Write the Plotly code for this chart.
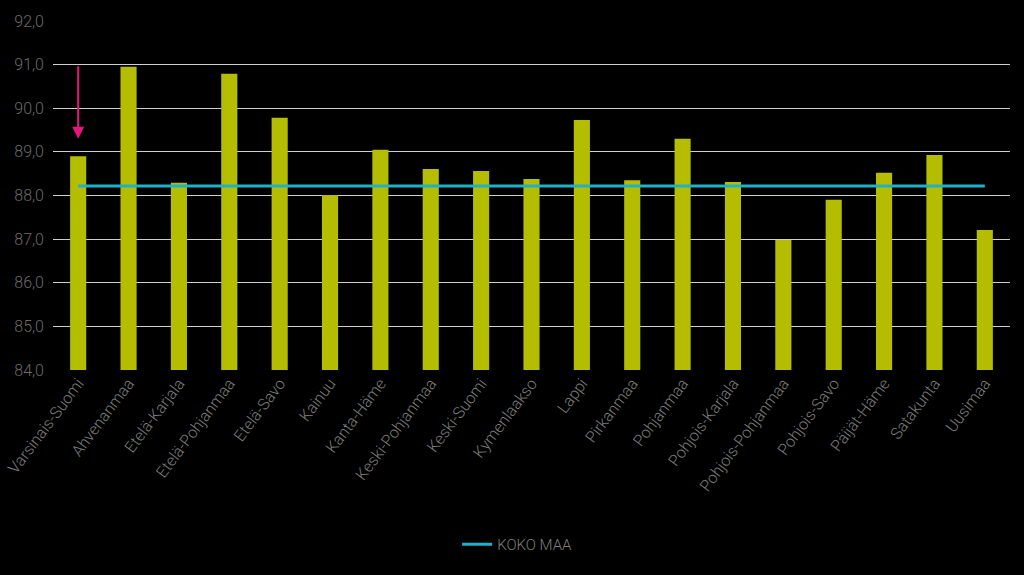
import plotly.graph_objects as go

regions = [
    "Varsinais-Suomi", "Ahvenanmaa", "Etelä-Karjala", "Etelä-Pohjanmaa", "Etelä-Savo",
    "Kainuu", "Kanta-Häme", "Keski-Pohjanmaa", "Keski-Suomi", "Kymenlaakso", "Lappi",
    "Pirkanmaa", "Pohjanmaa", "Pohjois-Karjala", "Pohjois-Pohjanmaa", "Pohjois-Savo",
    "Päijät-Häme", "Satakunta", "Uusimaa",
]
values = [
    88.9, 90.95, 88.29, 90.79, 89.78,
    88.01, 89.05, 88.61, 88.56, 88.38, 89.73,
    88.35, 89.3, 88.31, 86.98, 87.9,
    88.52, 88.93, 87.21,
]
koko_maa = 88.22

BAR = "#b5bd00"
LINE = "#1fb1c9"
TEXT = "#7c7c7c"
FONT = "Roboto, sans-serif"

fig = go.Figure()
fig.add_trace(go.Bar(
    x=regions, y=[v - 84 for v in values], base=84,
    marker=dict(color=BAR, line=dict(width=0)),
    showlegend=False, name="",
))
fig.add_trace(go.Scatter(
    x=regions, y=[koko_maa] * len(regions), mode="lines",
    line=dict(color=LINE, width=3), name="KOKO MAA",
))

# magenta arrow pointing at Varsinais-Suomi
fig.add_annotation(
    x=regions[0], y=89.3, ax=regions[0], ay=91.0,
    xref="x", yref="y", axref="x", ayref="y",
    showarrow=True, arrowhead=2, arrowsize=1.2, arrowwidth=2,
    arrowcolor="#e3177d", text="",
)

fig.update_layout(
    width=1024, height=575,
    paper_bgcolor="black", plot_bgcolor="black",
    margin=dict(l=53, r=14, t=21, b=205, autoexpand=False),
    bargap=0.68,
    separators=", ",
    font=dict(family=FONT, color=TEXT, size=14, weight=300),
    legend=dict(orientation="h", x=0.485, xanchor="center", y=-0.5, yanchor="middle",
                font=dict(size=15, color=TEXT, weight=300), itemwidth=30),
    xaxis=dict(tickangle=-53, showgrid=False, showline=False, ticks="",
               automargin=False, tickfont=dict(size=16, color=TEXT, weight=300)),
    yaxis=dict(range=[84, 92], dtick=1, tickformat=".1f", showgrid=True,
               gridcolor="#cfcfcf", gridwidth=1, zeroline=False, showline=False,
               ticks="", automargin=False, ticklabelstandoff=8,
               tickfont=dict(size=16, color="#6a6a6a", weight=300)),
)

fig.write_html("out.html", config={"displayModeBar": False},
               post_script="document.body.style.margin='0';")
